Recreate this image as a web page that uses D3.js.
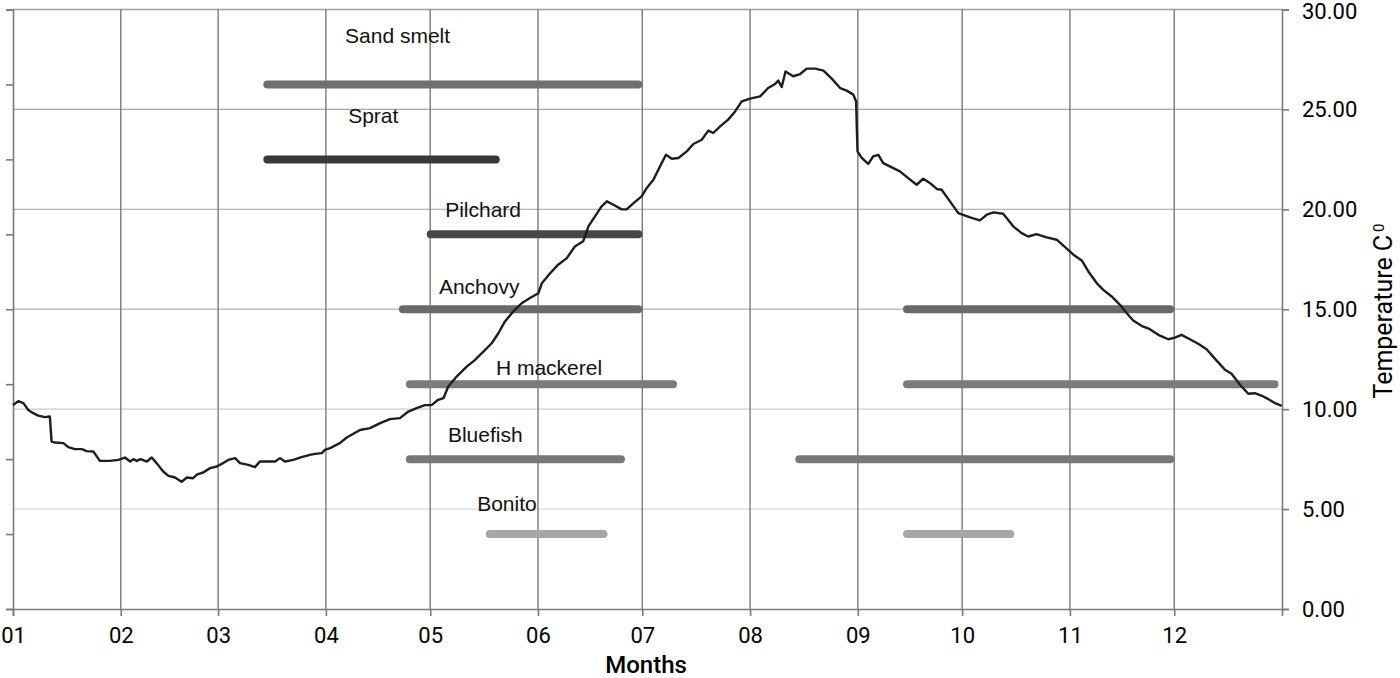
<!DOCTYPE html>
<html><head><meta charset="utf-8">
<script src="https://cdn.jsdelivr.net/npm/d3@7"></script>
<style>body{margin:0;background:#fff} svg{display:block}</style>
</head><body><svg id="c" width="1400" height="678"></svg>
<script>
// ---------- data ----------
const tempTicks = [0, 5, 10, 15, 20, 25, 30];
const levelTicks = [0, 1, 2, 3, 4, 5, 6, 7, 8];
const species = ["Sand smelt", "Sprat", "Pilchard", "Anchovy", "H mackerel", "Bluefish", "Bonito"];
const speciesLevel = [7, 6, 5, 4, 3, 2, 1];
const seasonStart = [["03-14"], ["03-14"], ["04-30"], ["04-22", "09-14"], ["04-24", "09-14"], ["04-24", "08-14"], ["05-17", "09-14"]];
const seasonEnd   = [["07-01"], ["05-21"], ["07-01"], ["07-01", "12-01"], ["07-11", "12-31"], ["06-26", "12-01"], ["06-21", "10-16"]];
const speciesShade = ["#6f6f6f", "#383838", "#474747", "#6a6a6a", "#7b7b7b", "#787878", "#a6a6a6"];
// label anchors (day of year, level units)
const labelDay = [95.5, 96.4, 124.3, 122.5, 138.9, 125.1, 133.5];
const labelLevel = [7.55, 6.48, 5.23, 4.21, 3.12, 2.23, 1.31];

// daily mean temperature, day offset from 1 Jan
const tempDay = [0,1.5,3.0,4.4,5.8,7.3,9.2,10.6,11.1,12.1,14.5,15.9,17.8,19.8,21.2,23.1,25.0,27.9,30.3,32.2,33.7,34.6,35.6,36.7,38.5,39.9,41.3,43.2,44.7,46.6,48.5,50.0,51.7,53.0,54.7,56.7,58.6,60.0,61.9,63.9,65.3,67.7,69.6,71.0,75.4,76.8,78.2,80.6,83.0,85.4,86.9,88.8,89.7,91.2,
 94.0,96.0,
 99.8,102.7,105.6,108.4,111.3,113.7,116.1,118.5,120.4,122.3,123.8,125.2,127.6,130.5,132.9,135.3,137.7,139.6,141.5,143.9,146.3,148.7,151.1,152.1,154.5,156.8,159.3,161.6,164.0,165.5,167.4,169.3,170.8,172.7,175.1,176.5,178.4,180.8,
 182.3,184.2,186.1,187.8,189.5,191.4,193.8,195.7,198.1,200.0,201.4,203.4,205.7,207.7,209.6,212.0,214.9,217.2,219.2,220.1,221.1,222.2,224.4,226.4,228.3,230.7,233.1,235.5,237.9,239.8,241.7,242.5,242.9,244.1,246.0,247.4,248.9,250.3,253.2,255.1,257.5,259.9,261.8,263.7,265.7,267.1,269.5,271.9,
 275.3,278.1,280.1,282.0,284.8,287.7,290.1,292.0,294.4,297.3,300.2,302.6,305.0,307.4,309.3,311.7,313.6,316.0,318.4,320.3,322.2,324.6,327.0,329.4,332.3,334.2,336.1,338.5,340.9,343.3,346.2,348.6,350.5,352.9,355.3,357.2,359.2,361.1,363.0,364.9];
const tempValue = [10.2,10.4,10.3,9.96,9.8,9.68,9.6,9.63,8.38,8.33,8.3,8.1,8.0,8.0,7.9,7.88,7.41,7.41,7.46,7.58,7.38,7.5,7.41,7.5,7.38,7.58,7.3,6.88,6.66,6.58,6.37,6.58,6.54,6.74,6.83,7.05,7.13,7.26,7.46,7.55,7.3,7.21,7.1,7.38,7.38,7.55,7.38,7.46,7.6,7.71,7.76,7.8,7.96,8.05,
 8.3,8.58,
 8.96,9.05,9.3,9.5,9.55,9.88,10.05,10.2,10.2,10.47,10.55,11.13,11.63,12.13,12.47,12.88,13.3,13.8,14.39,14.89,15.3,15.56,15.8,16.3,16.8,17.23,17.56,18.14,18.4,19.15,19.65,20.15,20.4,20.23,20.0,20.0,20.3,20.65,
 21.07,21.48,22.15,22.73,22.53,22.57,22.9,23.27,23.48,23.94,23.82,24.15,24.49,24.9,25.4,25.54,25.65,26.07,26.27,26.44,26.12,26.9,26.66,26.77,27.04,27.04,26.94,26.54,26.07,25.94,25.74,25.4,22.9,22.57,22.27,22.65,22.73,22.31,22.06,21.9,21.56,21.23,21.53,21.32,21.02,20.98,20.4,19.81,
 19.6,19.45,19.73,19.85,19.78,19.15,18.81,18.64,18.76,18.6,18.48,18.11,17.73,17.44,16.89,16.31,15.97,15.64,15.22,14.81,14.44,14.17,14.0,13.72,13.5,13.58,13.72,13.5,13.27,13.0,12.43,11.97,11.77,11.22,10.77,10.8,10.67,10.5,10.3,10.17];

// ---------- layout ----------
const L = 13, R = 1282, T = 9.5, B = 609;
const YEAR = 2011;
const t0 = Date.UTC(YEAR, 0, 1);
const dayDate = d => new Date(t0 + d * 864e5);
const md = s => { const [m, d] = s.split("-").map(Number); return new Date(Date.UTC(YEAR, m - 1, d)); };

const svg = d3.select("#c");
const x = d3.scaleUtc().domain([new Date(t0), new Date(Date.UTC(YEAR + 1, 0, 1))]).range([L, R]);
const yT = d3.scaleLinear().domain([0, 30]).range([B, T]);
const yL = d3.scaleLinear().domain([0, 8]).range([B, T]);

const axisColor = "#7a7a7a";
const font = "Roboto, 'Liberation Sans', Arial, sans-serif";

// horizontal gridlines
const gridShade = d3.scaleLinear().domain([5, 30]).range(["#d8d8d8", "#9c9c9c"]);
svg.append("g").selectAll("line").data(tempTicks.filter(v => v > 0)).join("line")
  .attr("x1", L).attr("x2", R).attr("y1", d => yT(d)).attr("y2", d => yT(d))
  .attr("stroke", d => gridShade(d)).attr("stroke-width", 1.3);

// vertical gridlines (month starts)
const months = d3.utcMonth.range(new Date(t0), new Date(Date.UTC(YEAR + 1, 0, 1)));
svg.append("g").selectAll("line").data(months.slice(1)).join("line")
  .attr("x1", d => x(d)).attr("x2", d => x(d)).attr("y1", T).attr("y2", B)
  .attr("stroke", axisColor).attr("stroke-width", 1.4);

// bottom axis
const gx = svg.append("g").attr("transform", `translate(0,${B})`)
  .call(d3.axisBottom(x).tickValues(months).tickFormat(d3.utcFormat("%m")).tickSize(7).tickPadding(11));
// right axis
const gr = svg.append("g").attr("transform", `translate(${R},0)`)
  .call(d3.axisRight(yT).tickValues(tempTicks).tickFormat(d3.format(".2f")).tickSize(7).tickPadding(13));
// left axis (species levels, no labels)
const gl = svg.append("g").attr("transform", `translate(${L},0)`)
  .call(d3.axisLeft(yL).tickValues(levelTicks).tickFormat("").tickSize(7));

[gx, gr, gl].forEach(g => {
  g.select(".domain").attr("stroke", axisColor).attr("stroke-width", 1.6);
  g.selectAll(".tick line").attr("stroke", axisColor).attr("stroke-width", 1.6);
  g.selectAll(".tick text").attr("fill", "#000").style("font-family", font).style("font-size", "22px");
});
// keep the top label inside the picture
gr.selectAll(".tick text").filter(d => d === 30).attr("dy", "0.42em");

// season bars
const cap = 4;
species.forEach((name, i) => {
  seasonStart[i].forEach((s, j) => {
    const x1 = x(md(s)) + cap, x2 = x(md(seasonEnd[i][j])) - cap;
    svg.append("line")
      .attr("x1", x1).attr("x2", x2)
      .attr("y1", yL(speciesLevel[i])).attr("y2", yL(speciesLevel[i]))
      .attr("stroke", speciesShade[i]).attr("stroke-width", 8).attr("stroke-linecap", "round");
  });
  svg.append("text")
    .attr("x", x(dayDate(labelDay[i]))).attr("y", yL(labelLevel[i]))
    .style("font-family", "'Liberation Sans', Arial, sans-serif").style("font-size", "21px")
    .attr("fill", "#111").text(name);
});

// temperature line
const pts = tempDay.map((d, i) => [dayDate(d), tempValue[i]]);
svg.append("path").datum(pts)
  .attr("fill", "none").attr("stroke", "#1e1e1e").attr("stroke-width", 2.4).attr("stroke-linejoin", "round")
  .attr("d", d3.line().x(p => x(p[0])).y(p => yT(p[1])));

// axis titles
svg.append("text").attr("x", 646).attr("y", 673).attr("text-anchor", "middle")
  .style("font-family", font).style("font-size", "24px").style("font-weight", 500).text("Months");

const tt = svg.append("text").attr("transform", "translate(1392,311) rotate(-90)").attr("text-anchor", "middle")
  .style("font-family", font).style("font-size", "25px").style("font-weight", 400);
tt.append("tspan").text("Temperature C");
tt.append("tspan").attr("dy", "-0.55em").attr("dx", "3").style("font-size", "15px").text("0");
</script></body></html>
